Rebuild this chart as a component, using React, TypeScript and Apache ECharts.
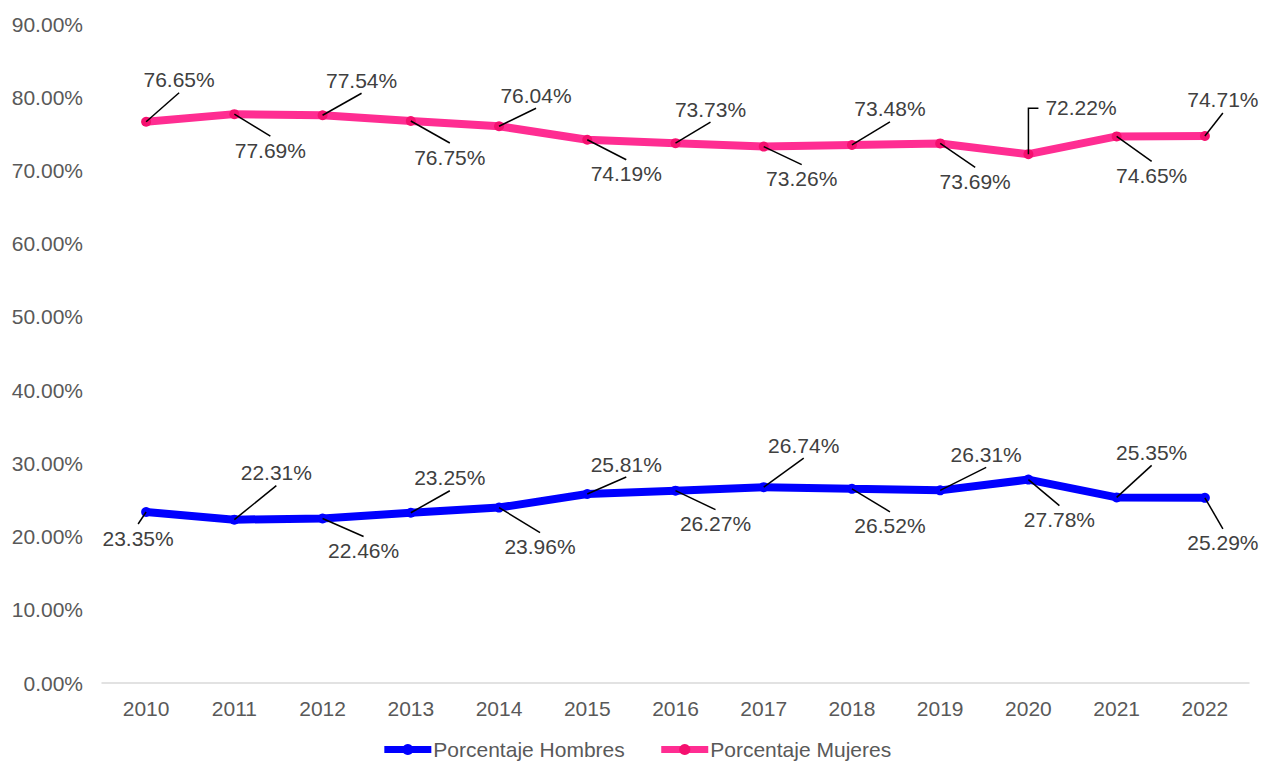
import React, { useEffect, useRef } from "react";
import * as echarts from "echarts";

const years = ["2010", "2011", "2012", "2013", "2014", "2015", "2016", "2017", "2018", "2019", "2020", "2021", "2022"];
const hombres = [23.35, 22.31, 22.46, 23.25, 23.96, 25.81, 26.27, 26.74, 26.52, 26.31, 27.78, 25.35, 25.29];
const mujeres = [76.65, 77.69, 77.54, 76.75, 76.04, 74.19, 73.73, 73.26, 73.48, 73.69, 72.22, 74.65, 74.71];
const yTicks = { min: 0, max: 90, interval: 10 };

// label placement (style only): [dx, dy, kind]
const mujeresLabelPos: [number, number, number][] = [
  [33, -42, 0], [36, 36, 0], [39, -35, 0], [39, 36, 0], [37, -31, 0], [39, 34, 0], [35, -34, 0],
  [38, 32, 0], [38, -36, 0], [35, 38, 0], [17, -47, 1], [35, 39, 0], [18, -36, 0],
];
const hombresLabelPos: [number, number, number][] = [
  [-8, 26, 0], [42, -47, 0], [41, 32, 0], [39, -35, 0], [41, 39, 0], [39, -30, 0], [40, 33, 0],
  [40, -42, 0], [38, 37, 0], [46, -36, 0], [31, 40, 0], [35, -45, 0], [18, 45, 0],
];

const FONT = '"Liberation Sans", Arial, sans-serif';
const BLUE = "#0000ff";
const PINK = "#ff2d92";
const FS = 21;

function labelSeries(name: string, values: number[], pos: [number, number, number][]) {
  return {
    type: "custom",
    name: name + "-labels",
    silent: true,
    z: 10,
    data: values.map((v, i) => [i, v]),
    encode: { x: 0, y: 1 },
    renderItem: (params: any, api: any) => {
      const i = params.dataIndex;
      const p = api.coord([api.value(0), api.value(1)]);
      const [dx, dy, kind] = pos[i];
      const txt = values[i].toFixed(2) + "%";
      if (kind === 1) {
        return {
          type: "group",
          children: [
            {
              type: "polyline",
              shape: { points: [[p[0], p[1]], [p[0], p[1] + dy + 1], [p[0] + 10, p[1] + dy + 1]] },
              style: { stroke: "#000", lineWidth: 1.5, fill: null },
            },
            {
              type: "text",
              style: {
                text: txt, x: p[0] + dx, y: p[1] + dy, fill: "#404040",
                fontSize: FS, fontFamily: FONT, align: "left", verticalAlign: "middle",
              },
            },
          ],
        };
      }
      const cx = p[0] + dx;
      const cy = p[1] + dy;
      const ey = dy < 0 ? cy + 13 : cy - 14;
      return {
        type: "group",
        children: [
          {
            type: "line",
            shape: { x1: p[0], y1: p[1], x2: cx, y2: ey },
            style: { stroke: "#000", lineWidth: 1.5 },
          },
          {
            type: "text",
            style: {
              text: txt, x: cx, y: cy, fill: "#404040",
              fontSize: FS, fontFamily: FONT, align: "center", verticalAlign: "middle",
            },
          },
        ],
      };
    },
  };
}

export default function App() {
  const ref = useRef<HTMLDivElement>(null);
  useEffect(() => {
    if (!ref.current) return;
    const chart = echarts.init(ref.current, null, { renderer: "svg" });
    chart.setOption({
      animation: false,
      backgroundColor: "#fff",
      textStyle: { fontFamily: FONT },
      grid: { left: 102, right: 23, top: 24, bottom: 97, containLabel: false },
      legend: {
        data: ["Porcentaje Hombres", "Porcentaje Mujeres"],
        left: "center",
        top: 739,
        padding: 0,
        itemWidth: 47,
        itemHeight: 14,
        itemGap: 33,
        lineStyle: { width: 7 },
        textStyle: { color: "#595959", fontSize: FS, fontFamily: FONT, padding: [0, 0, 0, -3] },
      },
      xAxis: {
        type: "category",
        data: years,
        boundaryGap: true,
        axisLine: { show: true, lineStyle: { color: "#d9d9d9", width: 1.5 } },
        axisTick: { show: false },
        axisLabel: { color: "#595959", fontSize: FS, fontFamily: FONT, margin: 15 },
        splitLine: { show: false },
      },
      yAxis: {
        type: "value",
        min: yTicks.min,
        max: yTicks.max,
        interval: yTicks.interval,
        axisLine: { show: false },
        axisTick: { show: false },
        splitLine: { show: false },
        axisLabel: {
          color: "#595959", fontSize: FS, fontFamily: FONT, margin: 19,
          formatter: (v: number) => v.toFixed(2) + "%",
        },
      },
      series: [
        {
          name: "Porcentaje Hombres",
          type: "line",
          data: hombres,
          symbol: "circle",
          symbolSize: 10,
          lineStyle: { color: BLUE, width: 8 },
          itemStyle: { color: BLUE },
          z: 3,
        },
        {
          name: "Porcentaje Mujeres",
          type: "line",
          data: mujeres,
          symbol: "circle",
          symbolSize: 10,
          lineStyle: { color: PINK, width: 8 },
          itemStyle: { color: "#f5106f" },
          z: 3,
        },
        labelSeries("Porcentaje Hombres", hombres, hombresLabelPos),
        labelSeries("Porcentaje Mujeres", mujeres, mujeresLabelPos),
      ],
    });
    return () => chart.dispose();
  }, []);
  return (
    <div
      ref={ref}
      style={{ position: "absolute", left: 0, top: 0, width: 1272, height: 780 }}
    />
  );
}
